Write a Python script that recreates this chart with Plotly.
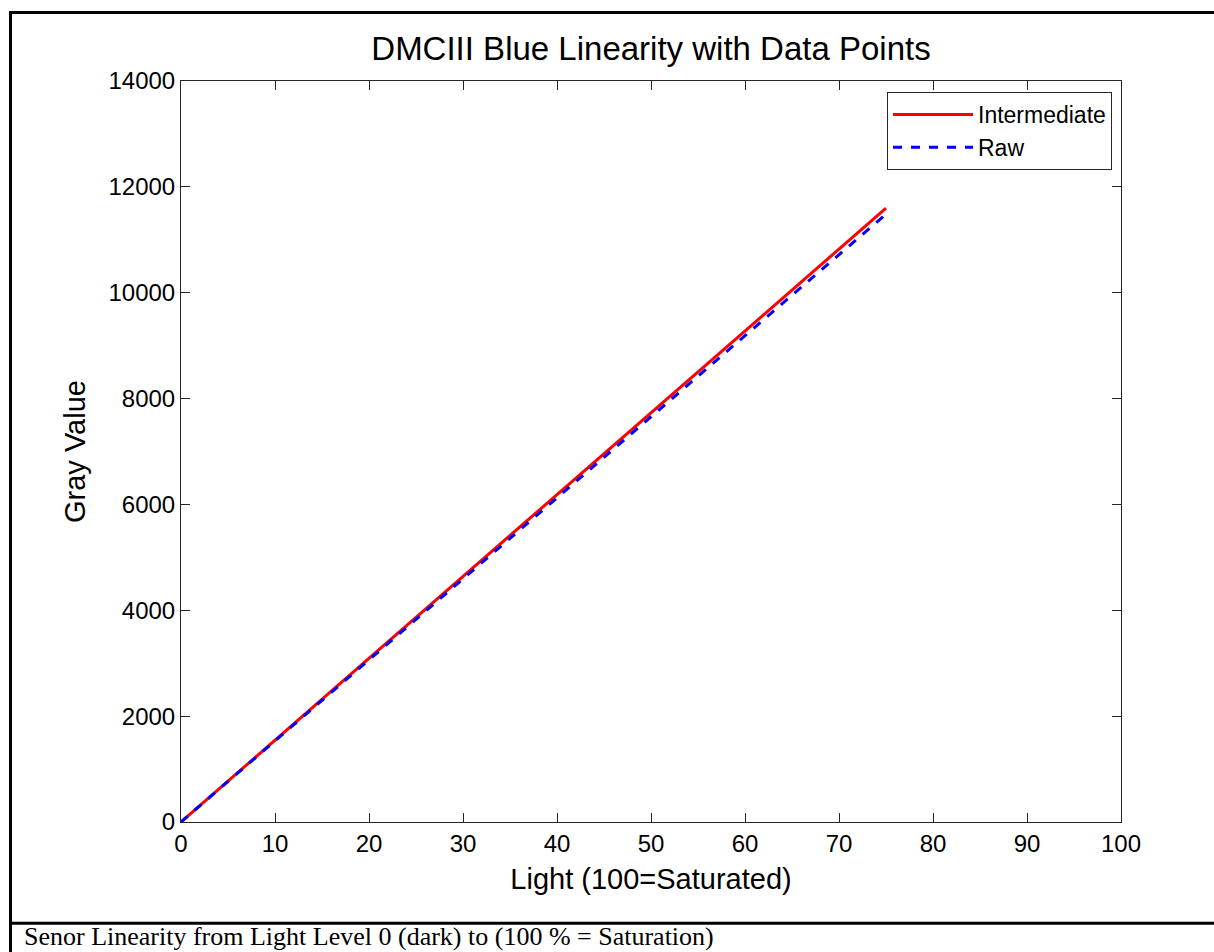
import plotly.graph_objects as go

# Data
light = [0, 5, 10, 15, 20, 25, 30, 35, 40, 45, 50, 55, 60, 65, 70, 75]
intermediate = [0, 773, 1546, 2319, 3092, 3865, 4638, 5411, 6184, 6957, 7730, 8503, 9276, 10049, 10822, 11597]
raw = [0, 766, 1531, 2297, 3062, 3828, 4593, 5359, 6124, 6890, 7655, 8421, 9186, 9952, 10717, 11484]

x_ticks = [0, 10, 20, 30, 40, 50, 60, 70, 80, 90, 100]
y_ticks = [0, 2000, 4000, 6000, 8000, 10000, 12000, 14000]

W, H = 1214, 952
# plot-area edges in page pixels
L, R, T, B = 181, 1121, 81, 822


def px_x(p):  # page pixel -> paper x
    return (p - L) / (R - L)


def px_y(p):  # page pixel -> paper y
    return (B - p) / (B - T)


SANS = "Arial, Liberation Sans, sans-serif"
SERIF = "Times New Roman, Liberation Serif, serif"

fig = go.Figure()
fig.add_trace(go.Scatter(x=light, y=intermediate, mode="lines", name="Intermediate",
                         line=dict(color="#ff0000", width=3)))
fig.add_trace(go.Scatter(x=light, y=raw, mode="lines", name="Raw",
                         line=dict(color="#0000ff", width=3, dash="dash")))

axis_common = dict(
    showline=True, linecolor="#262626", linewidth=1, mirror="ticks",
    ticks="inside", ticklen=9, tickcolor="#262626", tickwidth=1,
    showgrid=False, zeroline=False,
    tickfont=dict(family=SANS, size=24, color="black"),
)

fig.update_layout(
    width=W, height=H,
    margin=dict(l=L, r=W - R, t=T, b=H - B, autoexpand=False),
    paper_bgcolor="white", plot_bgcolor="white",
    title=dict(text="DMCIII Blue Linearity with Data Points",
               font=dict(family=SANS, size=33, color="black"),
               x=0.5, xref="paper", xanchor="center",
               y=1 - 48 / H, yref="container", yanchor="middle"),
    xaxis=dict(range=[0, 100], tickvals=x_ticks, ticktext=[str(v) for v in x_ticks],
               title=dict(text="Light (100=Saturated)", standoff=12,
                          font=dict(family=SANS, size=29, color="black")),
               **axis_common),
    yaxis=dict(range=[0, 14000], tickvals=y_ticks, ticktext=[str(v) for v in y_ticks],
               title=dict(text="Gray Value", standoff=14,
                          font=dict(family=SANS, size=29, color="black")),
               **axis_common),
    legend=dict(x=px_x(1112), y=px_y(92), xanchor="right", yanchor="top",
                bgcolor="white", bordercolor="#262626", borderwidth=1,
                font=dict(family=SANS, size=23, color="black"),
                itemwidth=80, tracegroupgap=0),
    showlegend=True,
)

# Outer frame and caption separator
fig.add_shape(type="line", xref="paper", yref="paper",
              x0=px_x(10.5), x1=px_x(10.5), y0=px_y(960), y1=px_y(11),
              line=dict(color="black", width=3))
fig.add_shape(type="line", xref="paper", yref="paper",
              x0=px_x(9), x1=px_x(1220), y0=px_y(12.5), y1=px_y(12.5),
              line=dict(color="black", width=3))
fig.add_shape(type="line", xref="paper", yref="paper",
              x0=px_x(9), x1=px_x(1220), y0=px_y(923.3), y1=px_y(923.3),
              line=dict(color="black", width=3))

fig.add_annotation(text="Senor Linearity from Light Level 0 (dark) to (100 % = Saturation)",
                   xref="paper", yref="paper", x=px_x(22), y=px_y(953),
                   xanchor="left", yanchor="bottom", showarrow=False,
                   font=dict(family=SERIF, size=26, color="black"))

fig.write_html(
    "out.html",
    config={"displayModeBar": False},
    post_script="document.body.style.margin='0';document.body.style.overflow='hidden';",
)
